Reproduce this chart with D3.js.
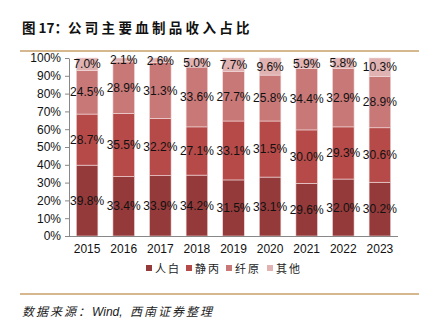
<!DOCTYPE html>
<html><head><meta charset="utf-8">
<script src="https://cdn.jsdelivr.net/npm/d3@7"></script>
<style>body{margin:0;background:#fff}svg{display:block}</style>
</head><body>
<svg id="c" width="429" height="323"></svg>
<script>
const years = ["2015","2016","2017","2018","2019","2020","2021","2022","2023"];
const seriesNames = ["人白","静丙","纤原","其他"];
const renbai = [39.8,33.4,33.9,34.2,31.5,33.1,29.6,32.0,30.2];
const jingbing = [28.7,35.5,32.2,27.1,33.1,31.5,30.0,29.3,30.6];
const xianyuan = [24.5,28.9,31.3,33.6,27.7,25.8,34.4,32.9,28.9];
const qita = [7.0,2.1,2.6,5.0,7.7,9.6,5.9,5.8,10.3];
const yTicks = [0,10,20,30,40,50,60,70,80,90,100];
const colors = ["#943a3a","#b54a48","#c97878","#e0b2b2"];

(function(){
const svg = d3.select("#c");
const font = "'Liberation Sans', Arial, sans-serif";
const cjk = "'Noto Sans CJK SC', sans-serif";

const title = svg.append("text").attr("x",22).attr("y",33).attr("font-family",cjk).attr("font-weight","bold")
  .attr("font-size",13.5).attr("fill","#111");
title.append("tspan").text("图\u00a017：");
title.append("tspan").attr("letter-spacing",3.3).text("公司主要血制品收入占比");
svg.append("line").attr("x1",20).attr("x2",419).attr("y1",51).attr("y2",51)
  .attr("stroke","#c9a06a").attr("stroke-width",1.3);

const pl=69, pr=398, pt=58, pb=236;
const x = d3.scaleBand().domain(years).range([pl,pr]).paddingInner(0.41).paddingOuter(0.2);
const y = d3.scaleLinear().domain([0,100]).range([pb,pt]);

const data = years.map((yr,i)=>({year:yr, v:[renbai[i],jingbing[i],xianyuan[i],qita[i]]}));

const g = svg.append("g");
data.forEach(d=>{
  let cum=0;
  d.v.forEach((v,k)=>{
    const y0=cum, y1=cum+v; cum=y1;
    const t1 = k===3 ? 100 : y1;
    g.append("rect").attr("x",x(d.year)).attr("width",x.bandwidth())
      .attr("y",y(t1)).attr("height",y(y0)-y(t1))
      .attr("fill",colors[k]).attr("stroke","#f2dcdc").attr("stroke-width",0.6);
    g.append("text").attr("x",x(d.year)+x.bandwidth()/2).attr("y",y((y0+Math.min(y1,100))/2)+4.2)
      .attr("text-anchor","middle").attr("font-family",font).attr("font-size",12)
      .attr("fill","#111").text(v.toFixed(1)+"%");
  });
});

const ya = svg.append("g").attr("transform",`translate(${pl},0)`)
  .call(d3.axisLeft(y).tickValues(yTicks).tickFormat(d=>d+"%").tickSize(4).tickSizeOuter(0));
ya.select(".domain").attr("stroke","#888");
ya.selectAll(".tick line").attr("stroke","#888");
ya.selectAll("text").attr("font-family",font).attr("font-size",12).attr("fill","#111").attr("dx","-1");

const xa = svg.append("g").attr("transform",`translate(0,${pb})`)
  .call(d3.axisBottom(x).tickSize(0).tickSizeOuter(0));
xa.select(".domain").attr("stroke","#888").attr("d",`M${pl},0.5H${pr}`);
xa.selectAll("text").attr("font-family",font).attr("font-size",12).attr("fill","#111").attr("dy","1.2em");

const lx=[146,186,226,267];
seriesNames.forEach((n,k)=>{
  svg.append("rect").attr("x",lx[k]).attr("y",265).attr("width",6).attr("height",6).attr("fill",colors[k]);
  svg.append("text").attr("x",lx[k]+9).attr("y",272.5).attr("font-family",cjk).attr("font-size",11)
    .attr("letter-spacing",2).attr("fill","#222").text(n);
});

svg.append("line").attr("x1",20).attr("x2",419).attr("y1",294).attr("y2",294)
  .attr("stroke","#c9a06a").attr("stroke-width",1.3);
const src = svg.append("text").attr("x",22).attr("y",316).attr("font-family",cjk).attr("font-style","italic")
  .attr("font-size",12).attr("fill","#222");
src.append("tspan").attr("letter-spacing",2).text("数据来源：");
src.append("tspan").attr("font-family",font).text("Wind, ");
src.append("tspan").attr("letter-spacing",2).attr("dx",4).text("西南证券整理");
})();
</script>
</body></html>
